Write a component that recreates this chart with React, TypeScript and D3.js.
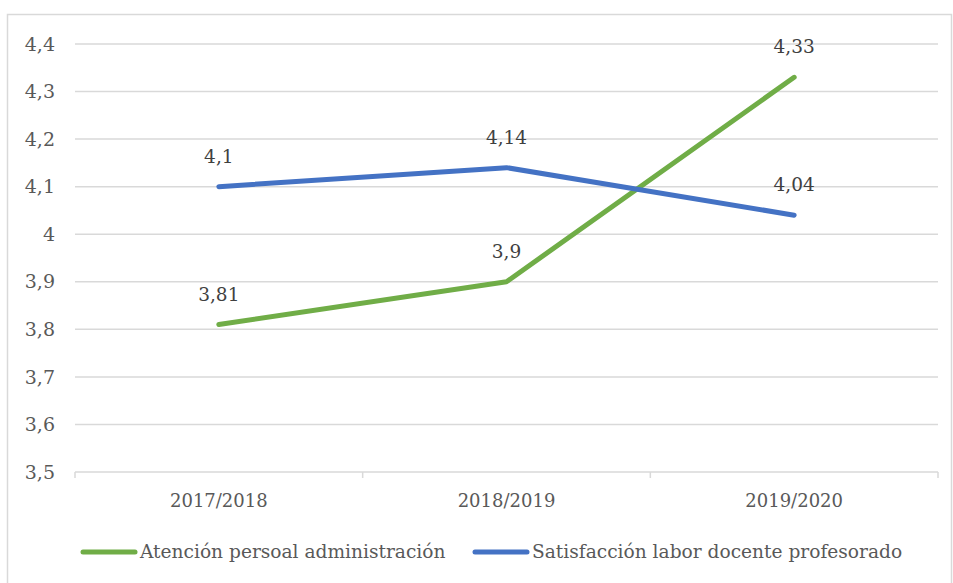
import React, { useEffect } from "react";
import * as d3 from "d3";

const years = ["2017/2018", "2018/2019", "2019/2020"];
const atencionValues = [3.81, 3.9, 4.33];
const satisfaccionValues = [4.1, 4.14, 4.04];
const yTicks = [3.5, 3.6, 3.7, 3.8, 3.9, 4, 4.1, 4.2, 4.3, 4.4];

const series = [
  { name: "Atención persoal administración", values: atencionValues, color: "#70AD47" },
  { name: "Satisfacción labor docente profesorado", values: satisfaccionValues, color: "#4472C4" },
];

const W = 953;
const H = 583;
const margin = { left: 75, right: 15, top: 44, bottom: 111 };
const font = "DejaVu Serif";
const textColor = "#595959";

const fmt = (v: number) => String(v).replace(".", ",");

const App = () => {
  useEffect(() => {
    document.body.style.margin = "0";
  }, []);

  const x = d3
    .scaleBand()
    .domain(years)
    .range([margin.left, W - margin.right]);
  const y = d3
    .scaleLinear()
    .domain([3.5, 4.4])
    .range([H - margin.bottom, margin.top]);

  const line = d3
    .line<number>()
    .x((_, i) => (x(years[i]) as number) + x.bandwidth() / 2)
    .y((d) => y(d));

  const bottom = H - margin.bottom;
  const xTickPos = [...years.map((c) => x(c) as number), W - margin.right];

  return (
    <svg width={W} height={H} style={{ display: "block", background: "#fff", fontFamily: font }}>
      <rect x={7.5} y={14.5} width={944} height={600} fill="none" stroke="#d9d9d9" strokeWidth={1.5} />
      {/* gridlines */}
      {yTicks.map((t) => (
        <g key={t}>
          <line
            x1={margin.left}
            x2={W - margin.right}
            y1={y(t)}
            y2={y(t)}
            stroke="#d9d9d9"
            strokeWidth={1.5}
          />
          <text x={55} y={y(t)} dy="0.35em" textAnchor="end" fontSize={19} fill={textColor}>
            {fmt(t)}
          </text>
        </g>
      ))}
      {/* x axis ticks */}
      {xTickPos.map((p, i) => (
        <line key={i} x1={p} x2={p} y1={bottom} y2={bottom + 6} stroke="#d9d9d9" strokeWidth={1.5} />
      ))}
      {years.map((c) => (
        <text
          key={c}
          x={(x(c) as number) + x.bandwidth() / 2}
          y={bottom + 35}
          textAnchor="middle"
          fontSize={18}
          fill={textColor}
        >
          {c}
        </text>
      ))}
      {/* series */}
      {series.map((s) => (
        <path
          key={s.name}
          d={line(s.values) as string}
          fill="none"
          stroke={s.color}
          strokeWidth={5}
          strokeLinecap="round"
          strokeLinejoin="round"
        />
      ))}
      {/* data labels */}
      {series.map((s) =>
        s.values.map((v, i) => (
          <text
            key={s.name + i}
            x={(x(years[i]) as number) + x.bandwidth() / 2}
            y={y(v) - 24}
            textAnchor="middle"
            fontSize={18.5}
            fill="#404040"
          >
            {fmt(v)}
          </text>
        ))
      )}
      {/* legend */}
      <g>
        <line x1={83} x2={135} y1={552} y2={552} stroke={series[0].color} strokeWidth={5} strokeLinecap="round" />
        <text x={140} y={551} dy="0.35em" fontSize={18.6} fill={textColor}>
          {series[0].name}
        </text>
        <line x1={475} x2={527} y1={552} y2={552} stroke={series[1].color} strokeWidth={5} strokeLinecap="round" />
        <text x={532} y={551} dy="0.35em" fontSize={18.6} fill={textColor}>
          {series[1].name}
        </text>
      </g>
    </svg>
  );
};

export default App;
